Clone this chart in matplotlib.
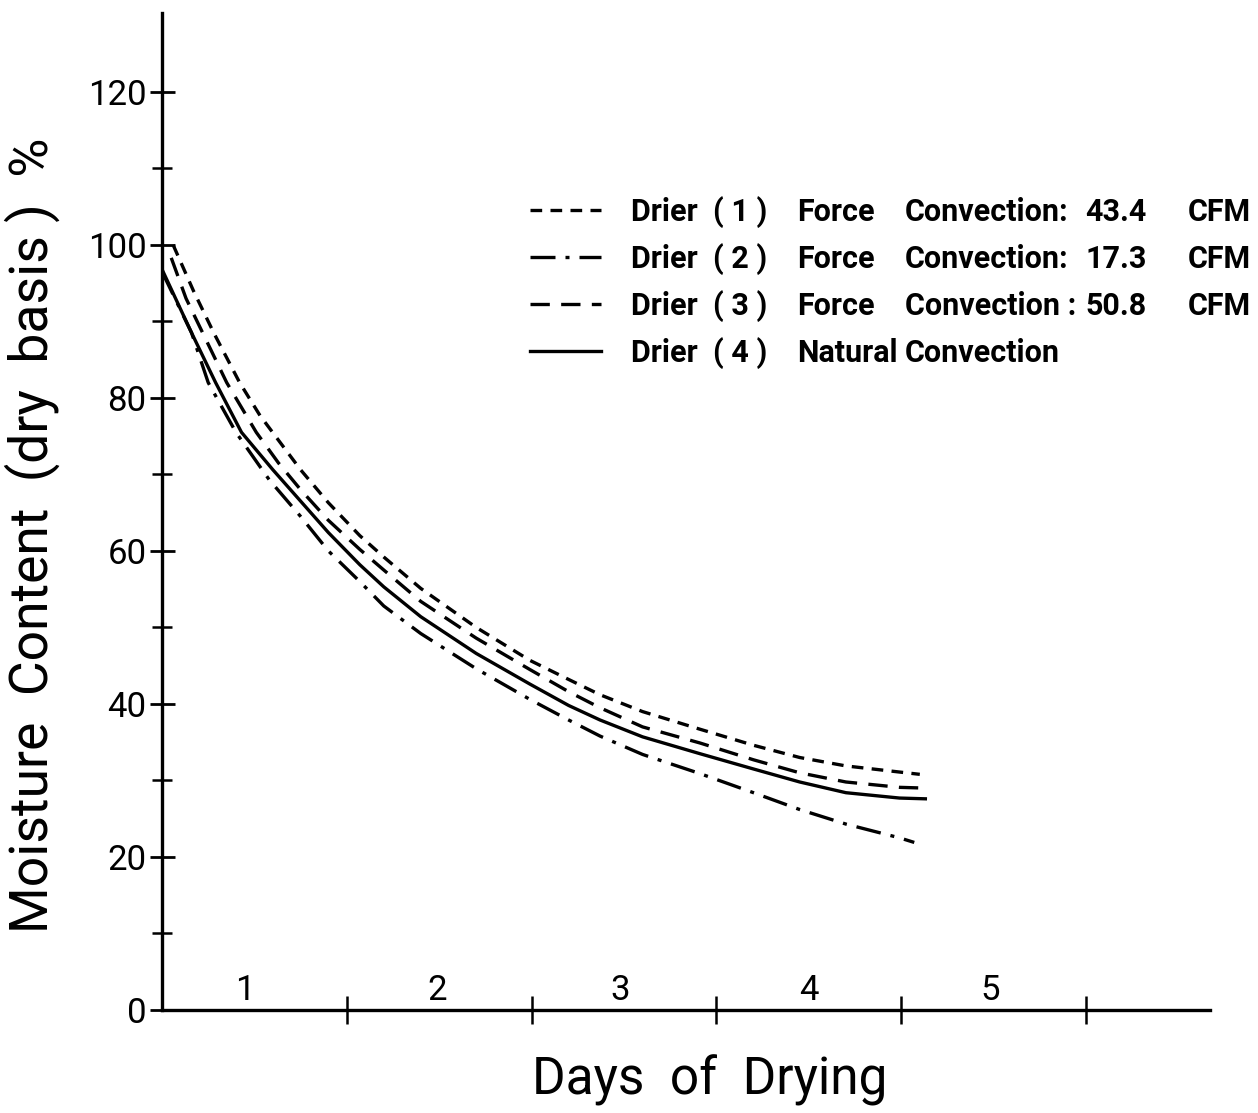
import numpy as np
import matplotlib
matplotlib.use("Agg")
import matplotlib.pyplot as plt
from matplotlib import ticker as tick

plt.rcParams['font.family'] = ['Roboto', 'DejaVu Sans']

# days of drying and moisture content (% dry basis)
days_1 = [0.06, 0.17, 0.28, 0.42, 0.53, 0.75, 0.9, 1.07, 1.2, 1.4, 1.7, 1.99, 2.2, 2.37, 2.6, 2.91, 3.2, 3.45, 3.7, 3.99, 4.10]
drier_1 = [100.0, 94.0, 88.5, 82.0, 77.7, 70.6, 66.3, 62.0, 59.2, 55.1, 50.0, 45.7, 43.2, 41.2, 39.0, 36.7, 34.6, 33.0, 31.9, 31.1, 30.8]

days_2 = [0.0, 0.16, 0.25, 0.40, 0.58, 0.75, 0.9, 1.07, 1.2, 1.4, 1.7, 1.99, 2.2, 2.37, 2.6, 2.91, 3.2, 3.45, 3.7, 3.99, 4.07]
drier_2 = [96.5, 88.5, 82.0, 75.5, 69.3, 64.5, 60.0, 56.0, 52.8, 49.2, 44.6, 40.6, 37.9, 35.8, 33.4, 30.9, 28.4, 26.2, 24.3, 22.5, 21.9]

days_3 = [0.05, 0.13, 0.22, 0.35, 0.51, 0.63, 0.75, 0.9, 1.07, 1.2, 1.4, 1.7, 1.99, 2.2, 2.37, 2.6, 2.91, 3.2, 3.45, 3.7, 3.99, 4.13]
drier_3 = [98.3, 93.0, 88.5, 82.0, 75.5, 71.5, 68.0, 64.0, 60.2, 57.5, 53.4, 48.6, 44.5, 41.6, 39.5, 37.0, 34.9, 32.7, 31.0, 29.8, 29.1, 29.0]

days_4 = [0.0, 0.16, 0.29, 0.43, 0.6, 0.75, 0.9, 1.07, 1.2, 1.4, 1.7, 1.99, 2.2, 2.37, 2.6, 2.91, 3.2, 3.45, 3.7, 3.99, 4.13]
drier_4 = [96.8, 88.5, 82.0, 75.5, 70.6, 66.5, 62.4, 58.2, 55.3, 51.4, 46.6, 42.6, 39.8, 37.9, 35.7, 33.5, 31.5, 29.8, 28.4, 27.7, 27.6]

# legend columns
col_drier = ["Drier  ( 1 )", "Drier  ( 2 )", "Drier  ( 3 )", "Drier  ( 4 )"]
col_type = ["Force", "Force", "Force", "Natural"]
col_conv = ["Convection:", "Convection:", "Convection :", "Convection"]
col_cfm = ["43.4", "17.3", "50.8", ""]
col_unit = ["CFM", "CFM", "CFM", ""]

day_ticks = [1, 2, 3, 4, 5]
day_label_pos = [0.45, 1.49, 2.48, 3.5, 4.48]
day_labels = ['1', '2', '3', '4', '5']
y_major = [0, 20, 40, 60, 80, 100, 120]
y_minor = [10, 30, 50, 70, 90, 110]

F = 25
lw = 2.4
W, H = 1258, 1113

fig = plt.figure(figsize=(W/100, H/100), dpi=100)
ax = fig.add_axes([162/W, 103/H, 1048/W, 997/H])

ax.plot(days_1, drier_1, 'k', lw=lw, linestyle=(0, (3.5, 2.5)), label=col_drier[0])
ax.plot(days_2, drier_2, 'k', lw=lw, linestyle=(0, (7.5, 3.0, 1.2, 3.0)), label=col_drier[1])
ax.plot(days_3, drier_3, 'k', lw=lw, linestyle=(0, (5.8, 3.4)), label=col_drier[2])
ax.plot(days_4, drier_4, 'k', lw=lw, linestyle='-', label=col_drier[3])

ax.set_xlim(0, 5.67)
ax.set_ylim(0, 130.3)

for side in ['top', 'right']:
	ax.spines[side].set_visible(False)
for side in ['left', 'bottom']:
	ax.spines[side].set_linewidth(2.4)

ax.yaxis.set_major_locator(tick.FixedLocator(y_major))
ax.yaxis.set_minor_locator(tick.FixedLocator(y_minor))
ax.tick_params(axis='y', which='major', direction='inout', length=18, width=2.0,
	labelsize=F, pad=2)
ax.tick_params(axis='y', which='minor', direction='inout', length=14, width=1.8)

# x: ticks at day boundaries, labels centred in each day above the axis
ax.xaxis.set_major_locator(tick.FixedLocator(day_ticks))
ax.xaxis.set_major_formatter(tick.NullFormatter())
ax.xaxis.set_minor_locator(tick.FixedLocator(day_label_pos))
ax.xaxis.set_minor_formatter(tick.FixedFormatter(day_labels))
ax.tick_params(axis='x', which='major', direction='inout', length=20, width=1.8)
ax.tick_params(axis='x', which='minor', length=0, labelsize=F, pad=-26)

ax.set_xlabel('Days  of  Drying', fontsize=37)
ax.xaxis.set_label_coords(0.523, -0.045)
ax.set_ylabel('Moisture  Content  (dry  basis )  %', fontsize=38.5)
ax.yaxis.set_label_coords(-0.097, 0.476)

LF = 22
leg = ax.legend(loc='upper left', bbox_to_anchor=(0.337, 0.832), frameon=False,
	handlelength=2.3, handletextpad=1.0, labelspacing=0.49, borderpad=0,
	prop={'size': LF, 'weight': 'bold'})

# remaining legend columns, lined up with the legend rows
fig.canvas.draw()
for i, t in enumerate(leg.get_texts()):
	bb = t.get_window_extent()
	yc = (bb.y0 + bb.y1)/2/H
	fig.text(797/W, yc, col_type[i], fontsize=LF, weight='bold', va='center')
	fig.text(905/W, yc, col_conv[i], fontsize=LF, weight='bold', va='center')
	fig.text(1085/W, yc, col_cfm[i], fontsize=LF, weight='bold', va='center')
	fig.text(1188/W, yc, col_unit[i], fontsize=LF, weight='bold', va='center')

plt.savefig('out.png', dpi=100)
